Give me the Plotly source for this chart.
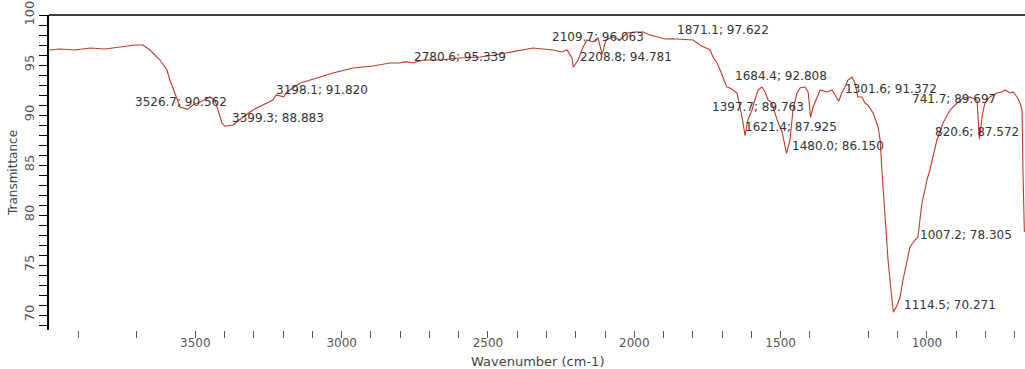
import plotly.graph_objects as go

# ---- spectrum data ----
wavenumber = [4000, 3962, 3911, 3860, 3809, 3757, 3706, 3679, 3655, 3621, 3597, 3587, 3569, 3552,
              3526.7, 3508, 3484, 3450, 3433, 3423, 3409, 3399.3, 3371, 3337, 3303, 3269, 3235, 3224,
              3198.1, 3187, 3142, 3084, 3030, 2961, 2893, 2835, 2801, 2780.6, 2756, 2722, 2664, 2596,
              2527, 2476, 2435, 2380, 2346, 2312, 2278, 2247, 2230, 2213, 2208.8, 2192, 2175, 2162,
              2141, 2124, 2109.7, 2097, 2073, 2049, 2025, 1998, 1970, 1946, 1922, 1895, 1871.1, 1820,
              1799, 1776, 1741, 1731, 1717, 1697, 1684.4, 1673, 1649, 1632, 1621.4, 1612, 1598, 1588,
              1577, 1564, 1553, 1543, 1530, 1512, 1495, 1480, 1468, 1458, 1444, 1434, 1417, 1406,
              1397.7, 1389, 1376, 1365, 1341, 1324, 1314, 1301.6, 1290, 1280, 1270, 1256, 1246, 1236,
              1222, 1212, 1202, 1184, 1167, 1160, 1154, 1143, 1133, 1123, 1114.5, 1102, 1092, 1082,
              1068, 1058, 1041, 1031, 1024, 1017, 1007, 1000, 990, 979, 966, 945, 921, 897, 877, 853,
              829, 820.6, 812, 802, 785, 761, 744, 733, 716, 706, 692, 682, 675, 672, 667.2]
transmittance = [96.5, 96.6, 96.5, 96.7, 96.6, 96.8, 97.0, 97.0, 96.5, 95.5, 94.5, 93.5, 92.2, 90.8,
                 90.562, 91.0, 91.3, 91.8, 91.5, 90.5, 89.2, 88.883, 89.0, 89.8, 90.5, 91.0, 91.5, 92.0,
                 91.820, 92.3, 93.2, 93.7, 94.2, 94.7, 94.9, 95.2, 95.2, 95.339, 95.2, 95.5, 95.5, 95.7,
                 95.8, 96.0, 96.2, 96.5, 96.7, 96.6, 96.5, 96.3, 96.5, 95.7, 94.781, 95.5, 96.8, 97.5,
                 97.3, 97.7, 96.063, 97.5, 97.8, 97.5, 98.2, 98.3, 98.3, 98.0, 97.8, 97.6, 97.622, 97.5,
                 97.5, 97.0, 96.5, 95.8, 95.2, 93.8, 92.808, 92.7, 92.2, 89.8, 87.925, 89.5, 90.5, 91.5,
                 92.5, 92.8, 92.3, 91.5, 91.2, 89.5, 88.3, 86.150, 87.5, 90.5, 92.2, 92.7, 92.8, 92.3,
                 89.763, 90.8, 91.8, 92.5, 92.3, 92.5, 92.0, 91.372, 92.3, 92.8, 93.5, 93.8, 93.2, 91.8,
                 91.8, 91.2, 91.0, 90.2, 88.8, 87.5, 84.5, 79.2, 75.5, 72.5, 70.271, 71.0, 71.8, 73.5,
                 75.5, 76.8, 77.5, 77.8, 79.5, 81.2, 82.5, 83.5, 84.5, 86.0, 87.5, 89.2, 90.5, 91.2, 91.7, 91.8,
                 91.5, 87.572, 89.8, 91.2, 91.8, 92.2, 92.3, 92.5, 92.2, 92.3, 91.8, 91.2, 90.5, 84.5, 78.305]

# ---- peak labels ----
peak_wn = [3526.7, 3399.3, 3198.1, 2780.6, 2109.7, 2208.8, 1871.1, 1684.4, 1397.7,
           1621.4, 1480.0, 1301.6, 741.7, 820.6, 1007.2, 1114.5]
peak_tr = [90.562, 88.883, 91.820, 95.339, 96.063, 94.781, 97.622, 92.808, 89.763,
           87.925, 86.150, 91.372, 89.697, 87.572, 78.305, 70.271]
peak_labels = ["3526.7; 90.562", "3399.3; 88.883", "3198.1; 91.820", "2780.6; 95.339",
               "2109.7; 96.063", "2208.8; 94.781", "1871.1; 97.622", "1684.4; 92.808",
               "1397.7; 89.763", "1621.4; 87.925", "1480.0; 86.150", "1301.6; 91.372",
               "741.7; 89.697", "820.6; 87.572", "1007.2; 78.305", "1114.5; 70.271"]
# label placement (anchor, x shift px, y shift px)
label_place = [("left", -55, 7), ("left", 5, 8), ("left", -10, 7), ("left", 6, 5),
               ("left", -52, 17), ("left", 5, 10), ("left", 3, 9), ("left", 6, 11),
               ("right", -5, 10), ("left", -2, 9), ("left", 4, 8), ("left", 4, 12),
               ("right", -5, 19), ("center", -2, 7), ("left", -7, -3), ("left", 9, 7)]

# ---- axis ticks ----
x_tick_vals = [3900, 3700, 3500, 3400, 3300, 3200, 3100, 3000, 2900, 2800, 2700, 2600, 2500,
               2400, 2300, 2200, 2100, 2000, 1900, 1800, 1700, 1600, 1500, 1400, 1200, 1100,
               1000, 900, 800, 700]
x_labelled = [3500, 3000, 2500, 2000, 1500, 1000]
x_tick_text = [str(v) if v in x_labelled else "" for v in x_tick_vals]
y_tick_vals = [70, 75, 80, 85, 90, 95, 100]
y_tick_text = [str(v) for v in y_tick_vals]

FONT = "DejaVu Sans"

fig = go.Figure()
fig.add_trace(go.Scatter(x=wavenumber, y=transmittance, mode="lines",
                         line=dict(color="#c0392b", width=1.1), hoverinfo="x+y",
                         showlegend=False))

for wn, tr, txt, (anc, dx, dy) in zip(peak_wn, peak_tr, peak_labels, label_place):
    fig.add_annotation(x=wn, y=tr, text=txt, showarrow=False, xanchor=anc, yanchor="middle",
                       xshift=dx, yshift=dy, font=dict(family=FONT, size=12, color="#333333"))

# x-axis title (placed below the tick labels)
fig.add_annotation(xref="paper", yref="paper", x=0.5, y=-0.1, xanchor="center", yanchor="middle",
                   text="Wavenumber (cm-1)", showarrow=False,
                   font=dict(family=FONT, size=13, color="#444444"))

fig.add_shape(type="line", xref="paper", yref="paper", x0=0, x1=1, y0=1, y1=1,
              line=dict(color="black", width=1.5))

fig.update_layout(
    width=1025, height=369,
    margin=dict(l=49, r=0, t=15, b=39),
    paper_bgcolor="white", plot_bgcolor="white",
    font=dict(family=FONT, color="#444444"),
    xaxis=dict(range=[4000, 665], tickmode="array", tickvals=x_tick_vals, ticktext=x_tick_text,
               ticks="outside", ticklen=7, tickcolor="#555555", tickwidth=1,
               ticklabelstandoff=-5,
               showline=False, showgrid=False, zeroline=False,
               tickfont=dict(family=FONT, size=12, color="#555555")),
    yaxis=dict(range=[68.5, 100], tickmode="array", tickvals=y_tick_vals, ticktext=y_tick_text,
               tickangle=-90, ticks="outside", ticklen=8, tickcolor="black",
               minor=dict(dtick=1, tick0=70, ticks="outside", ticklen=8, tickcolor="black"),
               showline=True, linecolor="black", linewidth=1.5,
               showgrid=False, zeroline=False,
               tickfont=dict(family=FONT, size=13, color="#555555"),
               title=dict(text="Transmittance", font=dict(family=FONT, size=12, color="#444444"),
                          standoff=2)),
)

fig.write_html("out.html")
